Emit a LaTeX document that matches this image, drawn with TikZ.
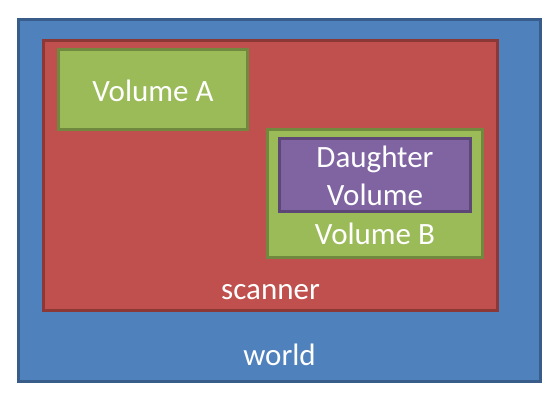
\documentclass[tikz,border=0pt]{standalone}
\usepackage{fontspec}
\setmainfont{Carlito}
\definecolor{wfill}{HTML}{4F81BD}
\definecolor{wline}{HTML}{385D8A}
\definecolor{sfill}{HTML}{C0504D}
\definecolor{sline}{HTML}{8C3836}
\definecolor{gfill}{HTML}{9BBB59}
\definecolor{gline}{HTML}{71893F}
\definecolor{pfill}{HTML}{8064A2}
\definecolor{pline}{HTML}{5C4776}
\begin{document}
\begin{tikzpicture}[x=1pt,y=-1pt,
  box/.style={rectangle,inner sep=0pt,line width=3pt},
  lbl/.style={text=white,font=\fontsize{31}{38}\selectfont,inner sep=0pt,align=center}]
\useasboundingbox (0,0) rectangle (558,401);
\node[box,fill=wfill,draw=wline,minimum width=522pt,minimum height=362pt] (world) at (279.5,200.5) {};
\node[box,fill=sfill,draw=sline,minimum width=454pt,minimum height=270pt] (scanner) at (270.5,175.5) {};
\node[box,fill=gfill,draw=gline,minimum width=189pt,minimum height=80pt] (volA) at (153,89.5) {};
\node[box,fill=gfill,draw=gline,minimum width=215pt,minimum height=128pt] (volB) at (375,193.5) {};
\node[box,fill=pfill,draw=pline,minimum width=191pt,minimum height=73pt] (daughter) at (375,175) {};
\node[lbl] (tA) at (153,91) {Volume A};
\node[lbl] (tD) at (375,176) {Daughter\\Volume};
\node[lbl] (tB) at (375,234) {Volume B};
\node[lbl] (tS) at (270.5,292) {scanner};
\node[lbl] (tW) at (279.5,355) {world};
\end{tikzpicture}
\end{document}
